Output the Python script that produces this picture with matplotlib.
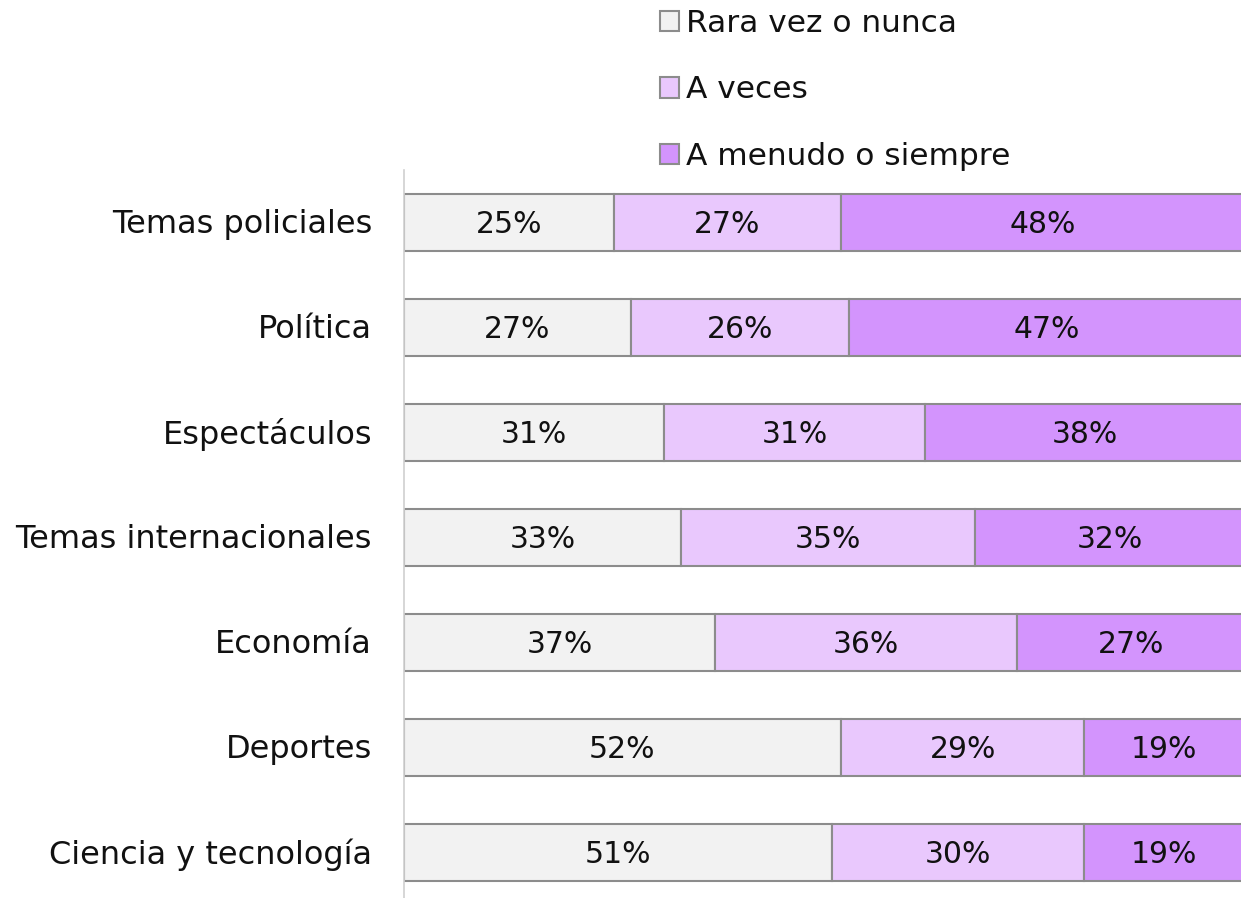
import matplotlib
matplotlib.use("Agg")
import matplotlib.pyplot as plt
import matplotlib.transforms as mtransforms
from matplotlib.patches import Patch
import numpy as np

categories = ["Temas policiales", "Política", "Espectáculos", "Temas internacionales",
              "Economía", "Deportes", "Ciencia y tecnología"]
rara = [25, 27, 31, 33, 37, 52, 51]
aveces = [27, 26, 31, 35, 36, 29, 30]
menudo = [48, 47, 38, 32, 27, 19, 19]
series_names = ["Rara vez o nunca", "A veces", "A menudo o siempre"]
colors = ["#f2f2f2", "#e9c8fd", "#d394fd"]
edge = "#8c8c8c"

plt.rcParams['font.family'] = ['DejaVu Sans']
fig = plt.figure(figsize=(12.41, 8.98), dpi=100)
ax = fig.add_axes([404/1241, 1-905/898, 840/1241, (905-170)/898])

y = np.arange(len(categories))
left = np.zeros(len(categories))
for vals, col, name in zip([rara, aveces, menudo], colors, series_names):
    vals = np.array(vals)
    ax.barh(y, vals, left=left, height=0.55, color=col, edgecolor=edge, linewidth=1.5, label=name)
    for yi, l, v in zip(y, left, vals):
        ax.text(l + v/2, yi + 0.015, f"{v}%", ha="center", va="center", fontsize=21.5, color="#111111")
    left += vals

ax.set_xlim(0, 100)
ax.set_ylim(len(categories)-0.5, -0.5)
ax.set_yticks(y)
ax.set_yticklabels(categories, fontsize=23, color="#111111", va="center")
ax.tick_params(axis='y', length=0, pad=23)
offset = mtransforms.ScaledTranslation(0, -2/100, fig.dpi_scale_trans)
for lab in ax.get_yticklabels():
    lab.set_transform(lab.get_transform() + offset)
ax.set_xticks([])
for s in ["top", "right", "bottom"]:
    ax.spines[s].set_visible(False)
ax.spines["left"].set_color("#d0d0d0")
ax.spines["left"].set_linewidth(1.2)

handles = [Patch(facecolor=c, edgecolor=edge, linewidth=1.5) for c in colors]
leg = fig.legend(handles, series_names, loc="upper left", bbox_to_anchor=(647/1241, 1.004),
                 frameon=False, fontsize=22.5, handlelength=0.62, handleheight=0.62,
                 handletextpad=0.22, labelspacing=1.2, borderaxespad=0)
for t in leg.get_texts():
    t.set_color("#111111")

fig.savefig("out.png", dpi=100)
